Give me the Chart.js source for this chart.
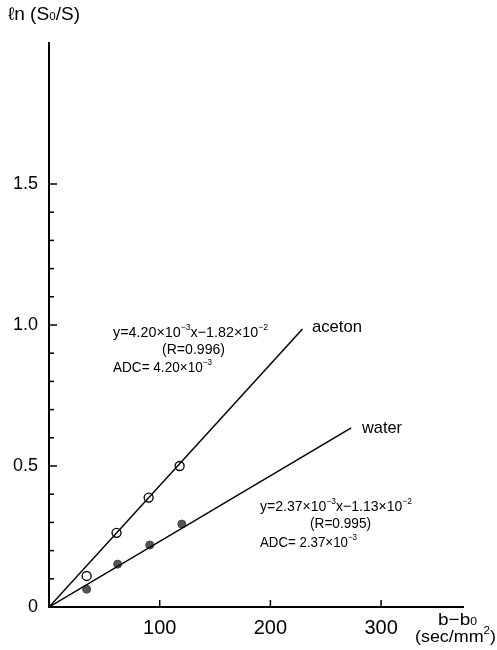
<!DOCTYPE html>
<html>
<head>
<meta charset="utf-8">
<title>ln(S0/S) vs b-b0</title>
<script src="https://cdn.jsdelivr.net/npm/chart.js@4/dist/chart.umd.min.js"></script>
<style>
  html, body { margin: 0; padding: 0; background: #fff; }
  #wrap { width: 497px; height: 650px; }
</style>
</head>
<body>
<div id="wrap"><canvas id="c" width="497" height="650"></canvas></div>
<script>
// values
const acetonX = [34, 61, 90, 118]
const acetonY = [0.11, 0.263, 0.388, 0.50]
const waterX = [34, 62, 91, 120]
const waterY = [0.063, 0.152, 0.220, 0.294]
// fitted lines, start / end
const acetonFitX = [0, 229]
const acetonFitY = [0, 0.986]
const waterFitX = [0, 273]
const waterFitY = [0, 0.635]

const yMajor = [0, 0.5, 1.0, 1.5]
const yLabels = ['0', '0.5', '1.0', '1.5']
const xMajor = [100, 200, 300]
const xLabels = ['100', '200', '300']

const toPts = (xs, ys) => xs.map((x, i) => ({ x: x, y: ys[i] }))
const sans = '"Liberation Sans", Arial, sans-serif'
const narrow = '"Liberation Sans Narrow", "Liberation Sans", Arial, sans-serif'

// draw text made of pieces, [text, kind] kind: 0 normal, 1 sup, 2 sub
function drawRich(ctx, parts, x, y, size, family, targetW) {
    ctx.save()
    const supSize = Math.round(size * 0.62)
    let w = 0
    parts.forEach(p => {
        ctx.font = (p[1] ? supSize : size) + 'px ' + family
        w += ctx.measureText(p[0]).width
    })
    let sx = targetW ? targetW / w : 1
    ctx.translate(x, y)
    ctx.scale(sx, 1)
    ctx.textBaseline = 'middle'
    ctx.textAlign = 'left'
    ctx.fillStyle = '#000'
    let cx = 0
    parts.forEach(p => {
        ctx.font = (p[1] ? supSize : size) + 'px ' + family
        let dy = p[1] == 1 ? -size * 0.36 : (p[1] == 2 ? size * 0.12 : 0)
        ctx.fillText(p[0], cx, dy)
        cx += ctx.measureText(p[0]).width
    })
    ctx.restore()
}

const extras = {
    id: 'extras',
    afterDraw(chart) {
        const ctx = chart.ctx
        const xs = chart.scales.x, ys = chart.scales.y
        const left = chart.chartArea.left, bottom = chart.chartArea.bottom
        ctx.save()
        ctx.strokeStyle = '#000'
        ctx.lineWidth = 1.5
        // inward ticks on y axis, every 0.1 up to 1.5
        for (let i = 1; i <= 15; i++) {
            let v = i / 10
            let py = ys.getPixelForValue(v)
            let len = (i % 5 == 0) ? 8 : 5
            ctx.beginPath()
            ctx.moveTo(left, py)
            ctx.lineTo(left + len, py)
            ctx.stroke()
        }
        // inward ticks on x axis
        xMajor.forEach(v => {
            let px = xs.getPixelForValue(v)
            ctx.beginPath()
            ctx.moveTo(px, bottom)
            ctx.lineTo(px, bottom - 7)
            ctx.stroke()
        })
        ctx.restore()

        // axis titles
        drawRich(ctx, [['ℓn', 0], [' (S', 0], ['0', 2], ['/S)', 0]], 8, 15, 18, sans, 72)
        drawRich(ctx, [['b−b', 0], ['0', 2]], 438, 620, 17, sans, 39)
        drawRich(ctx, [['(sec/mm', 0], ['2', 1], [')', 0]], 415, 637, 17, sans, 81)

        // series labels
        drawRich(ctx, [['aceton', 0]], 312, 327, 17, sans, 50)
        drawRich(ctx, [['water', 0]], 362, 428, 17, sans, 40)

        // equations
        drawRich(ctx, [['y=4.20×10', 0], ['−3', 1], ['x−1.82×10', 0], ['−2', 1]], 113, 333, 15, sans, 155)
        drawRich(ctx, [['(R=0.996)', 0]], 162, 350, 15, sans, 63)
        drawRich(ctx, [['ADC= 4.20×10', 0], ['−3', 1]], 113, 368, 15, sans, 99)

        drawRich(ctx, [['y=2.37×10', 0], ['−3', 1], ['x−1.13×10', 0], ['−2', 1]], 260, 507, 15, sans, 152)
        drawRich(ctx, [['(R=0.995)', 0]], 310, 524, 15, sans, 61)
        drawRich(ctx, [['ADC= 2.37×10', 0], ['−3', 1]], 260, 543, 15, sans, 97)
    }
}

new Chart(document.getElementById('c'), {
    type: 'scatter',
    data: {
        datasets: [
            {
                label: 'aceton fit',
                data: toPts(acetonFitX, acetonFitY),
                showLine: true,
                borderColor: '#000',
                borderWidth: 1.5,
                pointRadius: 0
            },
            {
                label: 'water fit',
                data: toPts(waterFitX, waterFitY),
                showLine: true,
                borderColor: '#000',
                borderWidth: 1.5,
                pointRadius: 0
            },
            {
                label: 'aceton',
                data: toPts(acetonX, acetonY),
                pointRadius: 4.5,
                pointBackgroundColor: '#fff',
                pointBorderColor: '#000',
                pointBorderWidth: 1.3
            },
            {
                label: 'water',
                data: toPts(waterX, waterY),
                pointRadius: 4,
                pointBackgroundColor: '#555',
                pointBorderColor: '#444',
                pointBorderWidth: 1
            }
        ]
    },
    options: {
        responsive: false,
        animation: false,
        layout: { padding: { top: 43, right: 34, left: 0, bottom: 0 } },
        plugins: {
            legend: { display: false },
            tooltip: { enabled: false }
        },
        scales: {
            x: {
                type: 'linear',
                min: 0,
                max: 374,
                afterFit: s => { s.height = 43 },
                grid: { display: false, drawTicks: false },
                border: { display: true, color: '#000', width: 2 },
                ticks: {
                    stepSize: 100,
                    padding: 9,
                    color: '#000',
                    font: { family: narrow, size: 20 },
                    maxRotation: 0,
                    callback: v => {
                        let i = xMajor.indexOf(v)
                        return i >= 0 ? xLabels[i] : ''
                    }
                }
            },
            y: {
                type: 'linear',
                min: 0,
                max: 2.0,
                afterFit: s => { s.width = 49 },
                grid: { display: false, drawTicks: false },
                border: { display: true, color: '#000', width: 2 },
                ticks: {
                    stepSize: 0.5,
                    padding: 11,
                    color: '#000',
                    font: { family: sans, size: 18 },
                    callback: v => {
                        let i = yMajor.findIndex(m => Math.abs(m - v) < 1e-6)
                        return i >= 0 ? yLabels[i] : ''
                    }
                }
            }
        }
    },
    plugins: [extras]
})
</script>
</body>
</html>
